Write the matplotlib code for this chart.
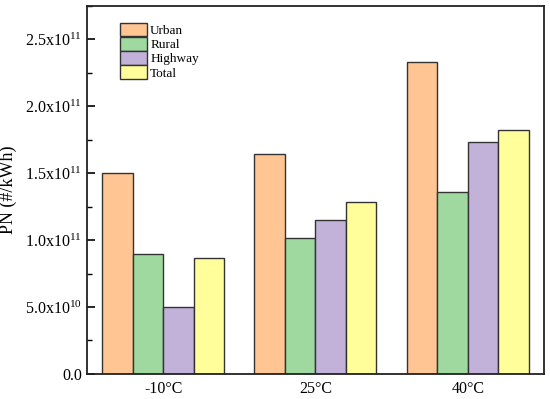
import numpy as np
import matplotlib
matplotlib.use("Agg")
import matplotlib.pyplot as plt
from matplotlib.ticker import MultipleLocator

plt.rcParams['font.family'] = ['Liberation Serif', 'DejaVu Serif']
plt.rcParams['mathtext.fontset'] = 'custom'
plt.rcParams['mathtext.rm'] = 'Liberation Serif'
plt.rcParams['mathtext.it'] = 'Liberation Serif:italic'

# data
temps = ['-10\u00b0C', '25\u00b0C', '40\u00b0C']
series = ['Urban', 'Rural', 'Highway', 'Total']
urban = [1.50e11, 1.647e11, 2.333e11]
rural = [0.893e11, 1.016e11, 1.357e11]
highway = [0.50e11, 1.148e11, 1.731e11]
total = [0.868e11, 1.287e11, 1.824e11]
colors = ['#FFC592', '#9FD99F', '#C2B2D9', '#FFFE9A']

yticks = [0, 5e10, 1e11, 1.5e11, 2e11, 2.5e11]
ytick_labels = ['0.0', r'5.0x10$^{10}$', r'1.0x10$^{11}$', r'1.5x10$^{11}$',
                r'2.0x10$^{11}$', r'2.5x10$^{11}$']

fig = plt.figure(figsize=(5.5, 3.99), dpi=100)
ax = fig.add_axes([0.158, 0.063, 0.831, 0.922])

x = np.arange(len(temps))
w = 0.2
for i, (name, vals) in enumerate(zip(series, [urban, rural, highway, total])):
    ax.bar(x + (i - 1.5) * w, vals, width=w, color=colors[i],
           edgecolor='#333333', linewidth=1.0, label=name)

ax.set_xlim(-0.5, 2.5)
ax.set_ylim(0, 2.75e11)
ax.set_xticks(x)
ax.set_xticklabels(temps, fontsize=11.5)
ax.tick_params(axis='x', length=0, pad=5)
ax.set_yticks(yticks)
ax.set_yticklabels(ytick_labels, fontsize=11.5)
ax.yaxis.set_minor_locator(MultipleLocator(2.5e10))
ax.tick_params(axis='y', which='major', direction='in', length=6, width=1.2)
ax.tick_params(axis='y', which='minor', direction='in', length=3.5, width=1.0)
ax.set_ylabel('PN (#/kWh)', fontsize=13, labelpad=6)

for s in ax.spines.values():
    s.set_linewidth(1.3)
    s.set_color('#222222')

ax.legend(loc='upper left', bbox_to_anchor=(0.072, 0.955), frameon=False,
          fontsize=9.5, handlelength=2.05, handleheight=1.22,
          handletextpad=0.25, labelspacing=0.0, borderaxespad=0.0,
          borderpad=0.0)

fig.savefig('out.png', dpi=100)
